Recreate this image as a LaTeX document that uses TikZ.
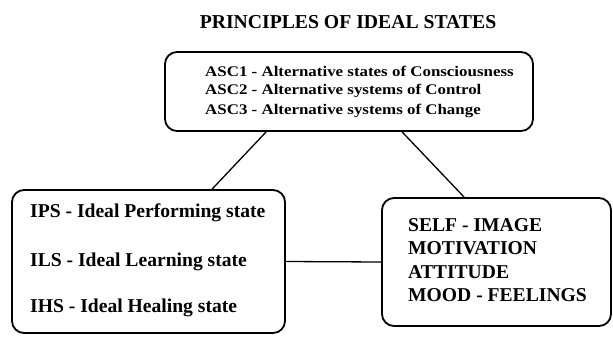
\documentclass[tikz,border=0pt]{standalone}
\usepackage{fontspec}
\setmainfont{Liberation Serif}
\newfontfamily\widefont[FakeStretch=1.15]{Liberation Serif}
\begin{document}
\begin{tikzpicture}[x=1pt,y=-1pt,
  box/.style={draw=black, line width=1.8pt, rounded corners=12pt, fill=none, inner sep=0pt},
  conn/.style={draw=black, line width=1.3pt},
  ttl/.style={font=\fontsize{19.7}{22}\selectfont\bfseries, inner sep=0pt},
  toptext/.style={font=\widefont\fontsize{14.7}{17}\selectfont\bfseries, anchor=west, inner sep=0pt},
  bigtext/.style={font=\fontsize{19.6}{22}\selectfont\bfseries, anchor=west, inner sep=0pt}]
\useasboundingbox[fill=white] (0,0) rectangle (613,338);
\node[ttl] (title) at (348,22) {PRINCIPLES OF IDEAL STATES};
\node[box, minimum width=368pt, minimum height=79pt] (topbox) at (349,91.5) {};
\node[toptext] (asc1) at (205,71) {ASC1 - Alternative states of Consciousness};
\node[toptext] (asc2) at (205,91) {ASC2 - Alternative systems of Control};
\node[toptext] (asc3) at (205,111) {ASC3 - Alternative systems of Change};
\node[box, minimum width=273pt, minimum height=143pt] (leftbox) at (148.5,261.5) {};
\node[bigtext] (ips) at (30,213) {IPS - Ideal Performing state};
\node[bigtext] (ils) at (30,262) {ILS - Ideal Learning state};
\node[bigtext] (ihs) at (30,308) {IHS - Ideal Healing state};
\node[box, minimum width=229pt, minimum height=128pt] (rightbox) at (496.5,262) {};
\node[bigtext] (self) at (408,225) {SELF - IMAGE};
\node[bigtext] (moti) at (408,248) {MOTIVATION};
\node[bigtext] (atti) at (408,272) {ATTITUDE};
\node[bigtext] (mood) at (408,295) {MOOD - FEELINGS};
\draw[conn] ([xshift=102pt]topbox.south west) -- ([xshift=201pt]leftbox.north west);
\draw[conn] ([xshift=238pt]topbox.south west) -- ([xshift=83pt]rightbox.north west);
\draw[conn] (leftbox.east) -- (rightbox.west);
\end{tikzpicture}
\end{document}
